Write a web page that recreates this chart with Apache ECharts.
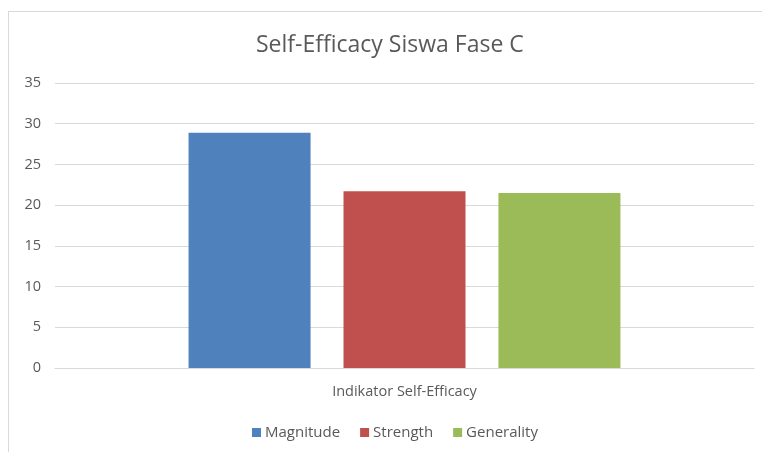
<!DOCTYPE html>
<html>
<head>
<meta charset="utf-8">
<script src="https://cdn.jsdelivr.net/npm/echarts@6/dist/echarts.min.js"></script>
<style>
  html, body { margin:0; padding:0; background:#fff; }
  #main { position:absolute; left:8px; top:11px; width:754px; height:441px; border-left:1px solid #d9d9d9; border-top:1px solid #d9d9d9; box-sizing:border-box; }
</style>
</head>
<body>
<div id="main"></div>
<script>
var categories = ['Indikator Self-Efficacy'];
var seriesNames = ['Magnitude', 'Strength', 'Generality'];
var magnitude = [28.9];
var strength = [21.7];
var generality = [21.5];
var yTicks = [0, 5, 10, 15, 20, 25, 30, 35];

var colors = ['#4f81bd', '#c0504d', '#9bbb59'];
var fontFam = '"Open Sans", "Liberation Sans", sans-serif';

var chart = echarts.init(document.getElementById('main'));
var option = {
    color: colors,
    animation: false,
    title: {
        text: 'Self-Efficacy Siswa Fase C',
        left: 242,
        top: 17,
        textStyle: {
            fontFamily: fontFam,
            fontSize: 23,
            fontWeight: 'normal',
            color: '#595959'
        }
    },
    legend: {
        bottom: 7,
        left: 238,
        itemWidth: 9,
        itemHeight: 9,
        itemGap: 20,
        icon: 'rect',
        textStyle: { fontFamily: fontFam, fontSize: 15, color: '#595959', padding: [0, 0, 0, -1] },
        data: seriesNames
    },
    grid: {
        left: 46,
        right: 8,
        top: 71,
        bottom: 84
    },
    xAxis: {
        type: 'category',
        data: categories,
        axisTick: { show: false },
        axisLine: { lineStyle: { color: '#d9d9d9' } },
        axisLabel: { fontFamily: fontFam, fontSize: 14.5, color: '#595959', margin: 16 }
    },
    yAxis: {
        type: 'value',
        min: yTicks[0],
        max: yTicks[yTicks.length - 1],
        interval: 5,
        axisLine: { show: false },
        axisTick: { show: false },
        axisLabel: { fontFamily: fontFam, fontSize: 14.5, color: '#595959', margin: 14 },
        splitLine: { lineStyle: { color: '#d9d9d9' } }
    },
    series: [
        { name: seriesNames[0], type: 'bar', data: magnitude, barWidth: 122, barGap: '27%' },
        { name: seriesNames[1], type: 'bar', data: strength, barWidth: 122, barGap: '27%' },
        { name: seriesNames[2], type: 'bar', data: generality, barWidth: 122, barGap: '27%' }
    ]
};
chart.setOption(option);
</script>
</body>
</html>
